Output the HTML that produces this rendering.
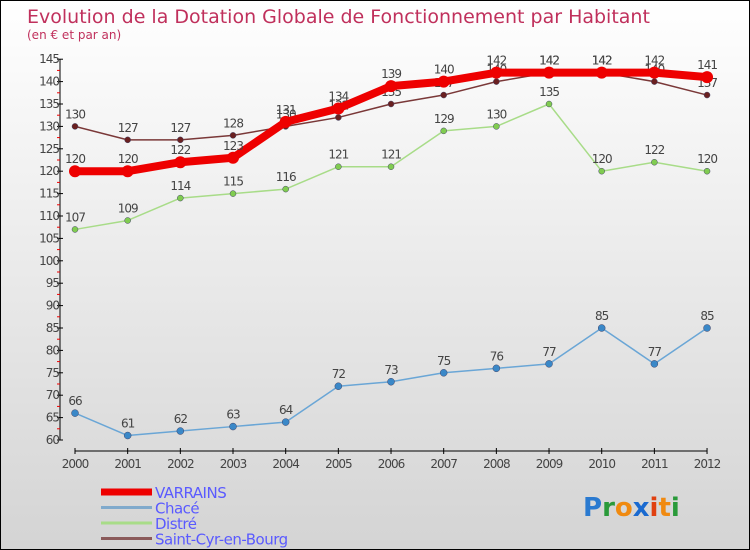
<!DOCTYPE html>
<html><head><meta charset="utf-8"><style>
body{margin:0}
#c{width:748px;height:548px;border:1px solid #000;background:linear-gradient(#ffffff,#d4d4d4);position:relative;font-family:"DejaVu Sans","Liberation Sans",sans-serif}
</style></head><body>
<div id="c">
<svg width="748" height="548" style="position:absolute;left:0;top:0">
<g id="g"></g>
</svg>
</div>
<script>
const years=[2000,2001,2002,2003,2004,2005,2006,2007,2008,2009,2010,2011,2012];
const varrains=[120,120,122,123,131,134,139,140,142,142,142,142,141];
const chace=[66,61,62,63,64,72,73,75,76,77,85,77,85];
const distre=[107,109,114,115,116,121,121,129,130,135,120,122,120];
const saintCyr=[130,127,127,128,130,132,135,137,140,142,142,140,137];
const yTicks=[60,65,70,75,80,85,90,95,100,105,110,115,120,125,130,135,140,145];
const NS='http://www.w3.org/2000/svg';
const g=document.getElementById('g');
const X=i=>74+i*52.67, Y=v=>439-(v-60)*4.48;
function el(t,a,p){const e=document.createElementNS(NS,t);for(const k in a)e.setAttribute(k,a[k]);(p||g).appendChild(e);return e;}
let t=el('text',{x:26,y:22,'font-size':19,fill:'#c0305c'});t.textContent='Evolution de la Dotation Globale de Fonctionnement par Habitant';

t=el('text',{x:26,y:38,'font-size':12,fill:'#c0305c'});t.textContent='(en € et par an)';

// y axis
let a=el('line',{x1:59,y1:Y(145),x2:59,y2:Y(60),stroke:'#000'});

yTicks.forEach(v=>{el('line',{x1:56,x2:62,y1:Y(v),y2:Y(v),stroke:'#000'});
 if(v<145)el('line',{x1:56,x2:59,y1:Y(v+2.5),y2:Y(v+2.5),stroke:'#e00'});
 const l=el('text',{x:58,y:Y(v)+4,'font-size':12,fill:'#444','text-anchor':'end','letter-spacing':'-1'});l.textContent=v;
 });
a=el('line',{x1:X(0),y1:450,x2:X(12),y2:450,stroke:'#000'});

years.forEach((y,i)=>{el('line',{x1:X(i),x2:X(i),y1:447,y2:453,stroke:'#000'});
 const l=el('text',{x:X(i),y:467,'font-size':12,fill:'#444','text-anchor':'middle','letter-spacing':'-1'});l.textContent=y;
 });
const series=[
 {n:'chace',d:chace,c:'#6aa6d6',w:1.5,r:3.5,f:'#3a88c8'},
 {n:'distre',d:distre,c:'#a8dc88',w:1.5,r:3,f:'#80cc50'},
 {n:'saint-cyr',d:saintCyr,c:'#7a3838',w:1.5,r:3,f:'#6a2020'},
 {n:'varrains',d:varrains,c:'#ee0000',w:8,r:6,f:'#ee0000'}];
series.forEach(s=>{
 const p=el('polyline',{points:s.d.map((v,i)=>X(i)+','+Y(v)).join(' '),fill:'none',stroke:s.c,'stroke-width':s.w,'stroke-linejoin':'round'});
 
 s.d.forEach((v,i)=>{const c=el('circle',{cx:X(i),cy:Y(v),r:s.r,fill:s.f,stroke:s.n=='varrains'?'none':'#446','stroke-width':0.5});
  
  const l=el('text',{x:X(i),y:Y(v)-8,'font-size':12,fill:'#444','text-anchor':'middle','letter-spacing':'-1'});l.textContent=v;
  });
});
const leg=[['VARRAINS','#ee0000',7],['Chacé','#80aacc',3],['Distré','#a8dc88',3],['Saint-Cyr-en-Bourg','#8a5a5a',3]];
leg.forEach((L,i)=>{const y=491+i*15.5;
 const ln=el('line',{x1:100,x2:151,y1:y,y2:y,stroke:L[1],'stroke-width':L[2]});
 
 const tx=el('text',{x:154,y:y+6,'font-size':15,fill:'#5a5aff','letter-spacing':'-0.5'});tx.textContent=L[0];
 });
const logo=el('text',{x:582,y:515,'font-size':26,'font-weight':'bold','font-family':'DejaVu Sans, sans-serif'});

[['P','#2a7ad0'],['r','#2a9a3a'],['o','#f08a10'],['x','#1a6ad0'],['i','#e04010'],['t','#f08a10'],['i','#2a9a3a']].forEach(c=>{const s=el('tspan',{fill:c[1]},logo);s.textContent=c[0];});
</script>
</body></html>
